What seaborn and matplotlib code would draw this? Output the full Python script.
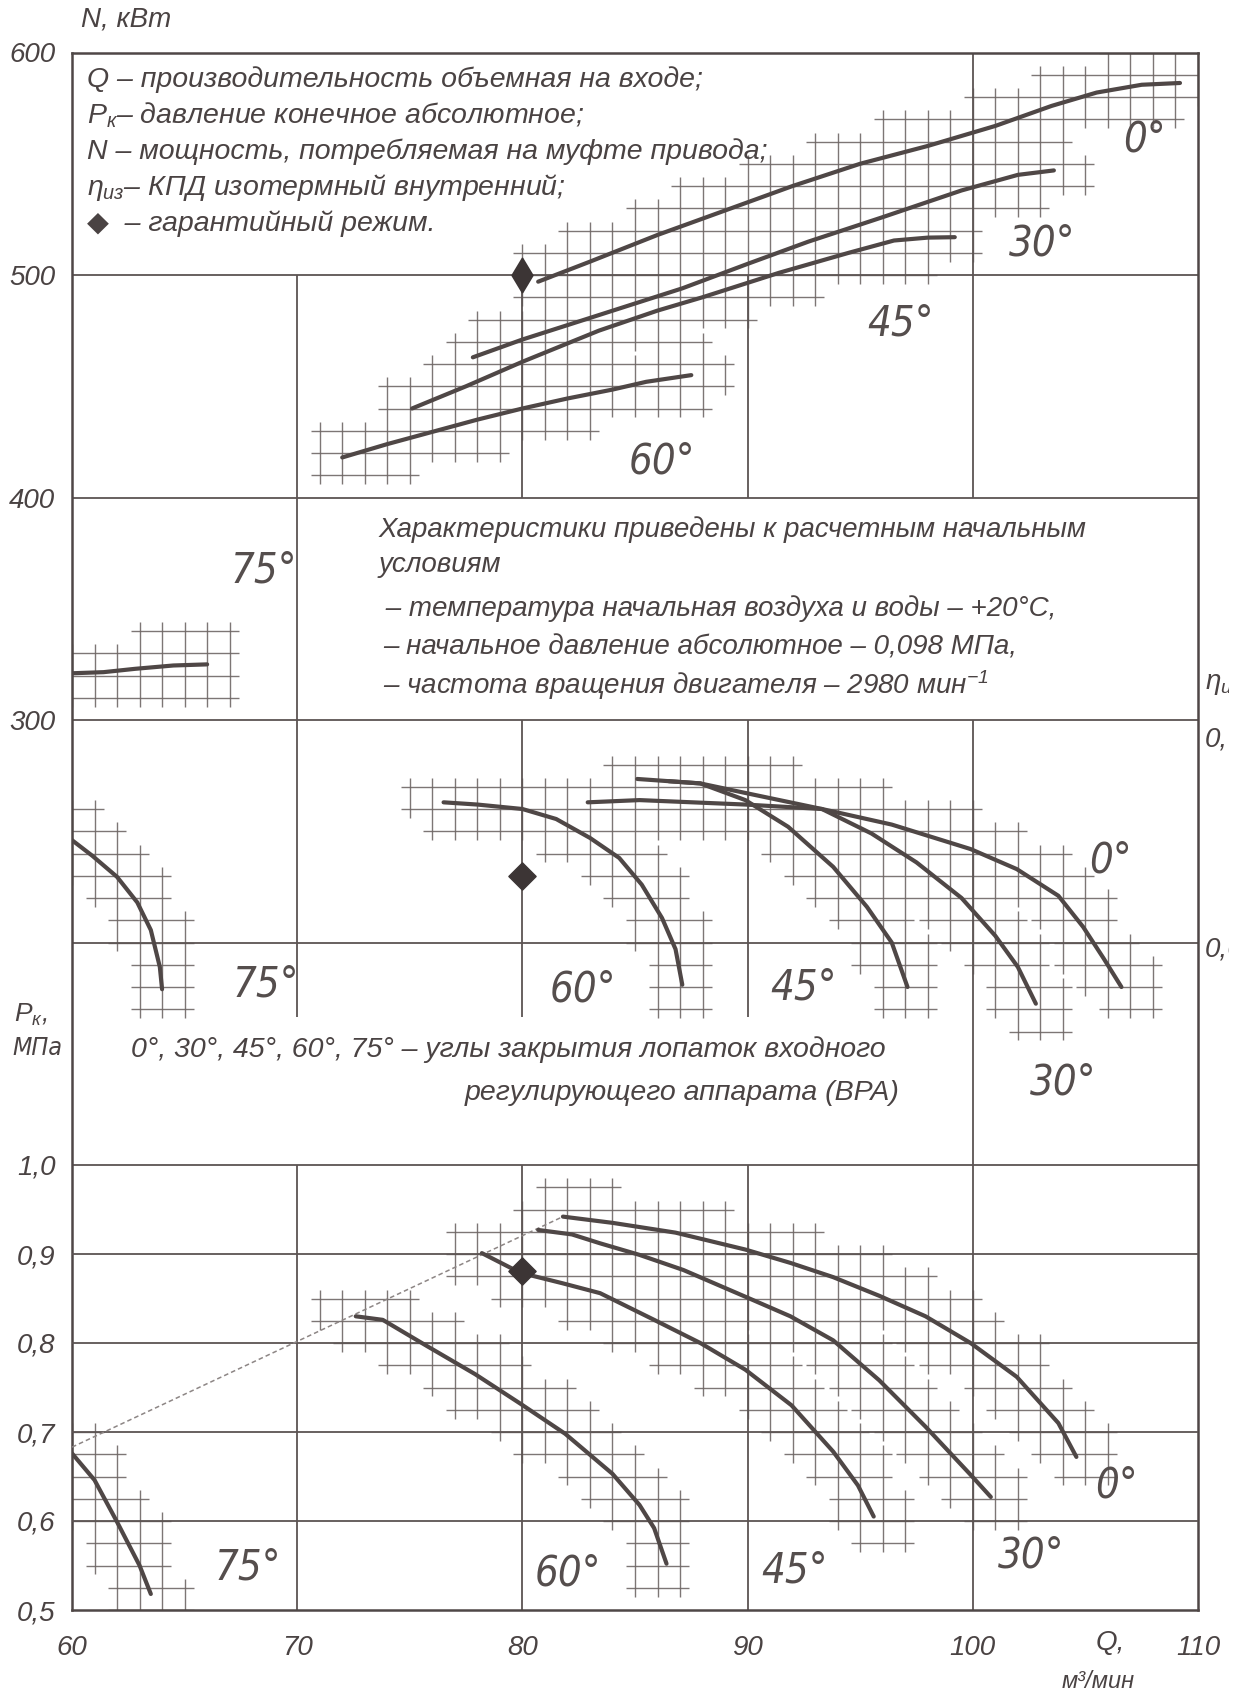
import numpy as np
import matplotlib
matplotlib.use("Agg")
import matplotlib.pyplot as plt
from matplotlib import font_manager as fm
from matplotlib.collections import LineCollection
from matplotlib.transforms import Bbox
import seaborn as sns

# ------------------------------------------------------------------ #
# Data (Q in m3/min)
# ------------------------------------------------------------------ #
angles = ["0°", "30°", "45°", "60°", "75°"]

# power N, kW
n_q = {
    "0°": [80.7, 83, 86, 89, 92, 95, 98, 101, 103.5, 105.5, 107.5, 109.2],
    "30°": [77.8, 80, 83.4, 87.1, 90, 92.7, 96, 99.5, 102, 103.6],
    "45°": [75.1, 77.5, 80, 83.4, 86, 88, 91.4, 94.5, 96.5, 98, 99.2],
    "60°": [72, 74, 76, 78, 80, 82, 84, 85.5, 87.5],
    "75°": [60, 61.4, 62.8, 64.5, 66],
}
n_val = {
    "0°": [497, 506, 518, 529, 540, 550, 558, 567, 576, 582, 585.5, 586.3],
    "30°": [463, 471, 482, 494, 505, 515, 526, 538, 545, 547],
    "45°": [440, 450, 461, 475, 484, 490, 501, 510, 515.5, 516.8, 517],
    "60°": [418, 424, 429.5, 435, 440, 444.5, 448.5, 452, 455],
    "75°": [321, 321.5, 323, 324.5, 325],
}

# isothermal efficiency
eta_q = {
    "0°": [82.9, 85.2, 89.9, 93.3, 96.4, 99.9, 101.95, 103.8, 104.9, 105.8, 106.6],
    "30°": [86.5, 87.9, 90, 93.3, 95.5, 97.5, 99.5, 101, 102, 102.8],
    "45°": [85.1, 87.9, 89.9, 91.8, 93.8, 95.3, 96.4, 97.1],
    "60°": [76.5, 78, 80, 81.5, 83, 84.3, 85.3, 86.2, 86.8, 87.1],
    "75°": [60, 60.9, 62, 62.9, 63.5, 63.9, 64],
}
eta_val = {
    "0°": [0.663, 0.664, 0.662, 0.660, 0.653, 0.642, 0.633, 0.621, 0.607, 0.593, 0.580],
    "30°": [0.6725, 0.6715, 0.667, 0.660, 0.649, 0.636, 0.620, 0.603, 0.589, 0.5725],
    "45°": [0.6735, 0.6715, 0.664, 0.652, 0.634, 0.616, 0.600, 0.580],
    "60°": [0.663, 0.662, 0.660, 0.6555, 0.647, 0.638, 0.626, 0.611, 0.597, 0.581],
    "75°": [0.646, 0.639, 0.6295, 0.618, 0.6056, 0.589, 0.579],
}

# final pressure Pk, MPa
pk_q = {
    "0°": [81.8, 84, 86.8, 89.9, 91.9, 93.8, 95.85, 97.9, 99.9, 101.95, 103.8, 104.6],
    "30°": [80.7, 82.2, 83.45, 85.2, 87.15, 89.9, 91.9, 93.8, 95.85, 97.9, 99.9, 100.8],
    "45°": [78.2, 79.9, 81.8, 83.45, 85.85, 87.9, 89.9, 91.95, 93.8, 94.9, 95.6],
    "60°": [72.6, 73.8, 75.8, 77.9, 79.9, 81.9, 84, 85.2, 85.85, 86.4],
    "75°": [60, 61, 62, 63, 63.5],
}
pk_val = {
    "0°": [0.942, 0.935, 0.924, 0.905, 0.890, 0.874, 0.853, 0.830, 0.800, 0.762, 0.710, 0.672],
    "30°": [0.927, 0.922, 0.912, 0.899, 0.882, 0.852, 0.830, 0.803, 0.758, 0.706, 0.652, 0.627],
    "45°": [0.901, 0.879, 0.867, 0.856, 0.826, 0.800, 0.770, 0.730, 0.678, 0.640, 0.605],
    "60°": [0.830, 0.826, 0.796, 0.765, 0.732, 0.698, 0.653, 0.618, 0.592, 0.552],
    "75°": [0.676, 0.646, 0.599, 0.550, 0.518],
}

# surge line and guaranteed point
surge_q = [60, 81.8]
surge_pk = [0.683, 0.942]
guar_q = 80
guar_n, guar_eta, guar_pk = 500, 0.630, 0.881

# angle label positions
n_lbl_q = {"0°": 107.6, "30°": 103.1, "45°": 96.8, "60°": 86.2, "75°": 68.5}
n_lbl_y = {"0°": 561, "30°": 514, "45°": 478, "60°": 416, "75°": 367}
eta_lbl_q = {"0°": 106.1, "30°": 104.0, "45°": 92.5, "60°": 82.7, "75°": 68.6}
eta_lbl_y = {"0°": 0.637, "30°": 0.537, "45°": 0.580, "60°": 0.579, "75°": 0.581}
pk_lbl_q = {"0°": 106.4, "30°": 102.6, "45°": 92.1, "60°": 82.0, "75°": 67.8}
pk_lbl_y = {"0°": 0.640, "30°": 0.561, "45°": 0.544, "60°": 0.541, "75°": 0.548}

# ticks
q_ticks = [60, 70, 80, 90, 100, 110]
n_ticks = [300, 400, 500, 600]
pk_ticks = [0.5, 0.6, 0.7, 0.8, 0.9, 1.0]

# drawing-sheet grid (partial lines around the text boxes), N units
vgrid_q = [70, 70, 80, 80, 80, 90, 90, 90, 100, 100]
vgrid_top = [500, 100, 500, 300, 100, 500, 300, 100, 600, 300]
vgrid_bot = [166.5, -100, 400, 166.5, -100, 400, 166.5, -100, 400, -100]
hgrid_n = [500, 400, 300, 200, 100]
hgrid_pk = [0.9, 0.8, 0.7, 0.6]

legend_lines = [
    "Q – производительность объемная на входе;",
    "$P_{к}$– давление конечное абсолютное;",
    "N – мощность, потребляемая на муфте привода;",
    "$η_{из}$– КПД изотермный внутренний;",
    "◆  – гарантийный режим.",
]
cond_lines = [
    "Характеристики приведены к расчетным начальным",
    "условиям",
    " – температура начальная воздуха и воды – +20°С,",
    "– начальное давление абсолютное – 0,098 МПа,",
    "– частота вращения двигателя – 2980 мин$^{-1}$",
]
vane_lines = [
    "0°, 30°, 45°, 60°, 75° – углы закрытия лопаток входного",
    "регулирующего аппарата (ВРА)",
]

# ------------------------------------------------------------------ #
# Style
# ------------------------------------------------------------------ #
sns.set_theme(style="white")
plt.rcParams["font.family"] = ["Liberation Sans", "DejaVu Sans"]
plt.rcParams["font.style"] = "italic"
plt.rcParams["mathtext.fontset"] = "custom"
plt.rcParams["mathtext.it"] = "Liberation Sans:italic"
plt.rcParams["mathtext.rm"] = "Liberation Sans:italic"

# narrow face for the big angle labels, if one is installed
installed = {(f.name, f.stretch) for f in fm.fontManager.ttflist}
if any(n == "Liberation Sans Narrow" for n, _ in installed):
    NARROW = dict(family=["Liberation Sans Narrow", "DejaVu Sans"])
    LBL_FS = 32
elif ("DejaVu Sans", "condensed") in installed:
    NARROW = dict(family=["DejaVu Sans"], stretch="condensed")
    LBL_FS = 30
else:
    NARROW = dict(family=["Liberation Sans", "DejaVu Sans"])
    LBL_FS = 27

LINE = "#4f4746"
GRID = "#5c5453"
FINE = "#6f6766"
TXT = "#4a4343"
LBL = "#554e4d"

W, H = 1254, 1697
fig = plt.figure(figsize=(W / 100, H / 100), dpi=100)
fig.patch.set_facecolor("white")
ax = fig.add_axes([72 / W, 1 - 1610 / H, 1126 / W, 1557.5 / H])
ax.set_xlim(60, 110)
ax.set_ylim(-100, 600)
ax_eta = ax.twinx()
ax_eta.set_ylim(0.3, 1.0)
ax_pk = ax.twinx()
ax_pk.set_ylim(0.5, 2.25)


def eta_to_n(v):
    return (np.asarray(v) - 0.4) * 1000.0


def pk_to_n(v):
    return (np.asarray(v) - 0.5) * 400.0 - 100.0


def runs(mask):
    out, start = [], None
    for i, m in enumerate(mask):
        if m and start is None:
            start = i
        elif not m and start is not None:
            out.append((start, i))
            start = None
    if start is not None:
        out.append((start, len(mask)))
    return out


def fine_grid(curves, reach=1.15, ext=0.4):
    """Graph-paper cells shown only along the curves."""
    nq, nn = 50, 70
    cq, cn = np.meshgrid(np.arange(nq) + 0.5, np.arange(nn) + 0.5, indexing="ij")
    sel = np.zeros((nq, nn), bool)
    for q, n in curves:
        u = np.asarray(q, float) - 60.0
        v = (np.asarray(n, float) + 100.0) / 10.0
        t = np.concatenate([[0], np.cumsum(np.hypot(np.diff(u), np.diff(v)))])
        tt = np.linspace(0, t[-1], 300)
        uu, vv = np.interp(tt, t, u), np.interp(tt, t, v)
        d = np.min(np.hypot(cq[..., None] - uu, cn[..., None] - vv), axis=-1)
        sel |= d < reach
    segs = []
    for j in range(nn + 1):
        row = np.zeros(nq, bool)
        if j > 0:
            row |= sel[:, j - 1]
        if j < nn:
            row |= sel[:, j]
        for a, b in runs(row):
            y = -100 + 10 * j
            segs.append([(60 + a - ext, y), (60 + b + ext, y)])
    for i in range(nq + 1):
        col = np.zeros(nn, bool)
        if i > 0:
            col |= sel[i - 1, :]
        if i < nq:
            col |= sel[i, :]
        for a, b in runs(col):
            segs.append([(60 + i, -100 + 10 * a - 10 * ext), (60 + i, -100 + 10 * b + 10 * ext)])
    return segs


# ------------------------------------------------------------------ #
# Grid
# ------------------------------------------------------------------ #
curves_n = [(n_q[a], n_val[a]) for a in angles]
curves_n += [(eta_q[a], eta_to_n(eta_val[a])) for a in angles]
curves_n += [(pk_q[a], pk_to_n(pk_val[a])) for a in angles]
ax.add_collection(LineCollection(fine_grid(curves_n), colors=FINE, linewidths=1.0,
                                 alpha=0.9, zorder=1))

ax.vlines(vgrid_q, vgrid_bot, vgrid_top, colors=GRID, linewidth=1.3, zorder=2)
ax.hlines(hgrid_n, 60, 110, colors=GRID, linewidth=1.3, zorder=2)
ax_pk.hlines(hgrid_pk, 60, 110, colors=GRID, linewidth=1.3, zorder=2)

# ------------------------------------------------------------------ #
# Curves
# ------------------------------------------------------------------ #
for a in angles:
    sns.lineplot(x=n_q[a], y=n_val[a], ax=ax, sort=False, estimator=None,
                 color=LINE, linewidth=3.0, zorder=4)
    sns.lineplot(x=eta_q[a], y=eta_val[a], ax=ax_eta, sort=False, estimator=None,
                 color=LINE, linewidth=3.0, zorder=4)
    sns.lineplot(x=pk_q[a], y=pk_val[a], ax=ax_pk, sort=False, estimator=None,
                 color=LINE, linewidth=3.0, zorder=4)
    ax.text(n_lbl_q[a], n_lbl_y[a], a, fontsize=LBL_FS, color=LBL,
            ha="center", va="center", **NARROW)
    ax_eta.text(eta_lbl_q[a], eta_lbl_y[a], a, fontsize=LBL_FS, color=LBL,
                ha="center", va="center", **NARROW)
    ax_pk.text(pk_lbl_q[a], pk_lbl_y[a], a, fontsize=LBL_FS, color=LBL,
               ha="center", va="center", **NARROW)

sns.lineplot(x=surge_q, y=surge_pk, ax=ax_pk, sort=False, estimator=None,
             color="#8d8685", linewidth=1.1, linestyle=(0, (3, 2)), zorder=3)

sns.scatterplot(x=[guar_q], y=[guar_n], ax=ax, marker="d", s=300, color="#3c3535",
                edgecolor="#3c3535", zorder=5)
sns.scatterplot(x=[guar_q], y=[guar_eta], ax=ax_eta, marker="D", s=190, color="#3c3535",
                edgecolor="#3c3535", zorder=5)
sns.scatterplot(x=[guar_q], y=[guar_pk], ax=ax_pk, marker="D", s=190, color="#3c3535",
                edgecolor="#3c3535", zorder=5)

# ------------------------------------------------------------------ #
# Axes, ticks
# ------------------------------------------------------------------ #
for a_ in (ax, ax_eta, ax_pk):
    a_.set_xlabel("")
    a_.set_ylabel("")
    for s in a_.spines.values():
        s.set_visible(False)
for s in ax.spines.values():
    s.set_visible(True)
    s.set_color(LINE)
    s.set_linewidth(1.8)

ax.set_xticks(q_ticks)
ax.set_xticklabels([str(v) for v in q_ticks])
ax.set_yticks(n_ticks)
ax.set_yticklabels([str(v) for v in n_ticks])
ax.tick_params(axis="both", length=0, labelsize=20, labelcolor=TXT)
ax.tick_params(axis="x", pad=18)
ax.tick_params(axis="y", pad=12)
ax_eta.set_yticks([])
ax_pk.set_yticks(pk_ticks)
ax_pk.set_yticklabels([f"{v:.1f}".replace(".", ",") for v in pk_ticks])
ax_pk.yaxis.set_ticks_position("left")
ax_pk.tick_params(axis="y", left=False, right=False, labelleft=True, labelright=False,
                  length=0, pad=12, labelsize=20, labelcolor=TXT)

# ------------------------------------------------------------------ #
# Texts
# ------------------------------------------------------------------ #
for i, line in enumerate(legend_lines):
    ax.text(60.67, 588 - 16.2 * i, line, fontsize=20.5, color=TXT, ha="left", va="center")
cond_x = [73.6, 73.6, 73.6, 73.8, 73.8]
cond_y = [385.4, 369.7, 349.9, 332.8, 315.7]
for x_, y_, line in zip(cond_x, cond_y, cond_lines):
    ax.text(x_, y_, line, fontsize=20, color=TXT, ha="left", va="center")
ax.text(62.6, 151.7, vane_lines[0], fontsize=20.5, color=TXT, ha="left", va="center")
ax.text(77.45, 132.4, vane_lines[1], fontsize=20.5, color=TXT, ha="left", va="center")

fig.text(81 / W, 1 - 20 / H, "N, кВт", fontsize=20, color=TXT, ha="left", va="center")
fig.text(14 / W, 1 - 1015 / H, "$P_{к}$,", fontsize=19, color=TXT, ha="left", va="center")
fig.text(12 / W, 1 - 1048 / H, "МПа", fontsize=18, color=TXT, ha="left", va="center",
         **NARROW)
fig.text(1110 / W, 1 - 1643 / H, "Q,", fontsize=20, color=TXT, ha="center", va="center")
fig.text(1098 / W, 1 - 1682 / H, "м³/мин", fontsize=17, color=TXT, ha="center",
         va="center")

clip = Bbox.from_extents(1199, 0, 1229, H)
for txt, yy, fs in (("$η_{из}$", 684, 20), ("0,7", 740, 20), ("0,6", 949, 20)):
    t = fig.text(1205 / W, 1 - yy / H, txt, fontsize=fs, color=TXT, ha="left", va="center")
    t.set_clip_box(clip)
    t.set_clip_on(True)

fig.savefig("out.png", dpi=100)
